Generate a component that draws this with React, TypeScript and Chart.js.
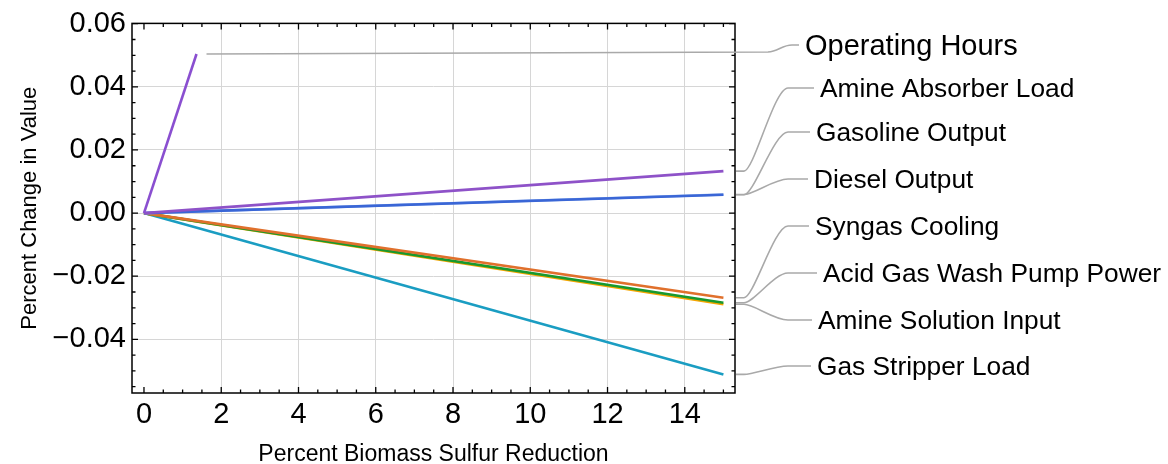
import React, { useEffect, useRef } from "react";
import { Chart, registerables } from "chart.js";

Chart.register(...registerables);

// ---- data ----
const seriesNames = [
  "Operating Hours",
  "Amine Absorber Load",
  "Gasoline Output",
  "Diesel Output",
  "Syngas Cooling",
  "Acid Gas Wash Pump Power",
  "Amine Solution Input",
  "Gas Stripper Load",
];
const startX = [0, 0, 0, 0, 0, 0, 0, 0];
const startY = [0, 0, 0, 0, 0, 0, 0, 0];
const endX = [1.36, 15, 15, 15, 15, 15, 15, 15];
const endY = [0.0504, 0.0133, 0.0058, 0.0059, -0.0268, -0.0284, -0.0289, -0.0511];
const xTickValues = [0, 2, 4, 6, 8, 10, 12, 14];
const yTickValues = [-0.04, -0.02, 0, 0.02, 0.04, 0.06];
const xTitle = "Percent Biomass Sulfur Reduction";
const yTitle = "Percent Change in Value";

// ---- styles / layout ----
const seriesColors = [
  "#8a4fd0",
  "#8e52c8",
  "#3a66d6",
  "#8fb0ec",
  "#e0702c",
  "#18992e",
  "#f5a600",
  "#1a9dc2",
];
const calloutLayout = [
  { x: 805, y: 45, size: 29 },
  { x: 820, y: 88, size: 26.3 },
  { x: 816, y: 132, size: 26.3 },
  { x: 814, y: 179, size: 26.3 },
  { x: 815, y: 226, size: 26.3 },
  { x: 823, y: 273, size: 26.3 },
  { x: 818, y: 320, size: 26.3 },
  { x: 817, y: 366, size: 26.3 },
];
const FONT = "'Liberation Sans', Arial, Helvetica, sans-serif";

const framePlugin = {
  id: "framePlugin",
  afterDraw(chart: any) {
    const ctx = chart.ctx;
    const { left, right, top, bottom } = chart.chartArea;
    const xs = chart.scales.x;
    const ys = chart.scales.y;
    ctx.save();
    // frame
    ctx.strokeStyle = "#000";
    ctx.lineWidth = 1.5;
    ctx.strokeRect(left, top, right - left, bottom - top);
    // ticks (inward)
    ctx.lineWidth = 1.3;
    ctx.beginPath();
    for (let i = 0; i <= 30; i++) {
      const v = i * 0.5;
      const major = i % 4 === 0;
      const len = major ? 6 : 3.5;
      const px = xs.getPixelForValue(v);
      if (px < left || px > right) continue;
      ctx.moveTo(px, bottom);
      ctx.lineTo(px, bottom - len);
      ctx.moveTo(px, top);
      ctx.lineTo(px, top + len);
    }
    for (let i = -11; i <= 12; i++) {
      const v = i * 0.005;
      const major = i % 4 === 0;
      const len = major ? 6 : 3.5;
      const py = ys.getPixelForValue(v);
      if (py < top - 0.5 || py > bottom) continue;
      ctx.moveTo(left, py);
      ctx.lineTo(left + len, py);
      ctx.moveTo(right, py);
      ctx.lineTo(right - len, py);
    }
    ctx.stroke();

    // callouts
    ctx.strokeStyle = "#a9a9a9";
    ctx.lineWidth = 1.6;
    for (let i = 0; i < seriesNames.length; i++) {
      const lay = calloutLayout[i];
      const ey = ys.getPixelForValue(endY[i]);
      const tx = lay.x - 6;
      ctx.beginPath();
      if (i === 0) {
        const sx = xs.getPixelForValue(endX[i]) + 10;
        ctx.moveTo(sx, ey);
        ctx.lineTo(768, ey - 2);
        ctx.bezierCurveTo(778, ey - 2.5, 782, lay.y, 792, lay.y);
        ctx.lineTo(tx, lay.y);
      } else {
        const sx = right + 1;
        ctx.moveTo(sx, ey);
        ctx.lineTo(sx + 8, ey);
        ctx.bezierCurveTo(sx + 18, ey, sx + 38, lay.y, sx + 52, lay.y);
        ctx.lineTo(tx, lay.y);
      }
      ctx.stroke();
    }
    // labels
    ctx.fillStyle = "#000";
    ctx.textAlign = "left";
    ctx.textBaseline = "alphabetic";
    for (let i = 0; i < seriesNames.length; i++) {
      const lay = calloutLayout[i];
      ctx.font = `${lay.size}px ${FONT}`;
      ctx.fillText(seriesNames[i], lay.x, lay.y + lay.size * 0.36);
    }
    ctx.restore();
  },
};

const fmt = (v: number) => {
  const s = Math.abs(v).toFixed(2);
  return v < -1e-9 ? "\u2212" + s : s;
};

export default function App() {
  const canvasRef = useRef<HTMLCanvasElement | null>(null);

  useEffect(() => {
    if (!canvasRef.current) return;
    const datasets = seriesNames.map((name, i) => ({
      label: name,
      data: [
        { x: startX[i], y: startY[i] },
        { x: endX[i], y: endY[i] },
      ],
      borderColor: seriesColors[i],
      backgroundColor: seriesColors[i],
      borderWidth: 2.6,
      pointRadius: 0,
      fill: false,
      tension: 0,
    }));
    const chart = new Chart(canvasRef.current, {
      type: "line",
      data: { datasets },
      options: {
        animation: false,
        responsive: true,
        maintainAspectRatio: false,
        layout: { padding: { top: 20, right: 433, left: 0, bottom: 0 } },
        plugins: { legend: { display: false }, tooltip: { enabled: false } },
        scales: {
          x: {
            type: "linear",
            min: -0.31,
            max: 15.3,
            afterFit: (s: any) => {
              s.height = 71;
            },
            afterBuildTicks: (s: any) => {
              s.ticks = xTickValues.map((v) => ({ value: v }));
            },
            border: { display: false },
            grid: {
              drawTicks: false,
              lineWidth: 1,
              color: (c: any) => (c.tick && c.tick.value === 0 ? "rgba(0,0,0,0)" : "#d6d6d6"),
            },
            ticks: {
              padding: 5,
              color: "#000",
              font: { family: FONT, size: 29 },
              maxRotation: 0,
              callback: (v: any) => String(v),
            },
            title: {
              display: true,
              text: xTitle,
              color: "#000",
              font: { family: FONT, size: 23, lineHeight: 0.8 },
              padding: { top: 0, bottom: 0 },
            },
          },
          y: {
            type: "linear",
            min: -0.057,
            max: 0.0601,
            afterFit: (s: any) => {
              s.width = 132;
            },
            afterBuildTicks: (s: any) => {
              s.ticks = yTickValues.map((v) => ({ value: v }));
            },
            border: { display: false },
            grid: {
              drawTicks: false,
              lineWidth: 1,
              color: "#d6d6d6",
            },
            ticks: {
              padding: 6,
              color: "#000",
              font: { family: FONT, size: 29 },
              callback: (v: any) => fmt(Number(v)),
            },
            title: {
              display: true,
              text: yTitle,
              color: "#000",
              font: { family: FONT, size: 22, lineHeight: 1.2 },
              padding: { top: 17, bottom: 0 },
            },
          },
        },
      },
      plugins: [framePlugin],
    });
    return () => chart.destroy();
  }, []);

  return (
    <div style={{ position: "fixed", left: 0, top: 0, width: 1168, height: 464, background: "#fff" }}>
      <canvas ref={canvasRef} />
    </div>
  );
}
